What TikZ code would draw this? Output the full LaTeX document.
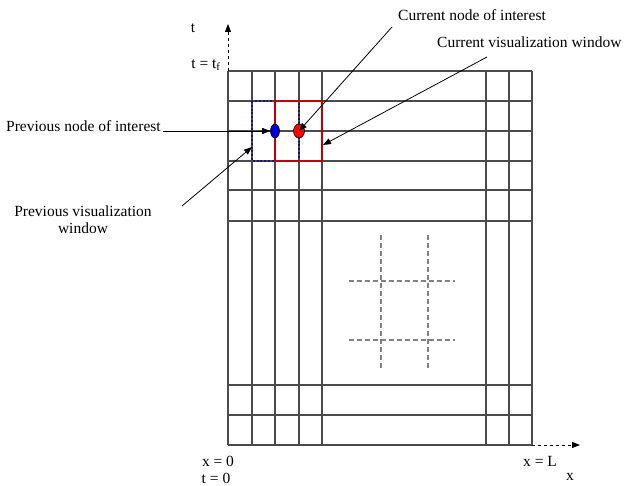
\documentclass[tikz,border=0pt]{standalone}
\usepackage{fontspec}
\setmainfont{Liberation Serif}
\usetikzlibrary{arrows.meta,shapes.geometric}
\definecolor{gridgray}{RGB}{75,75,75}
\definecolor{winred}{RGB}{192,0,0}
\definecolor{winblue}{RGB}{20,20,120}
\begin{document}
\begin{tikzpicture}[x=1pt,y=-1pt,
  gridline/.style={draw=gridgray, line width=1.2pt},
  lbl/.style={font=\fontsize{15.5}{17}\selectfont, inner sep=0pt},
  ptr/.style={draw=black, line width=0.8pt, -{Triangle[length=8pt,width=6pt]}},
  axisline/.style={draw=black, dashed, line width=0.8pt, -{Triangle[length=8pt,width=6pt]}},
  crossline/.style={draw=gray, line width=1.1pt, dash pattern=on 5pt off 3pt},
  dot/.style={ellipse, draw=black, line width=0.6pt, minimum width=9pt, minimum height=14pt, inner sep=0pt}
]
\useasboundingbox (0,0) rectangle (624,486);
% grid
\foreach \x in {228,252,275,299,322,486,509,532}
  \draw[gridline] (\x,71) -- (\x,445);
\foreach \y in {71,101,131,161,190,221,385,415,445}
  \draw[gridline] (228,\y) -- (532,\y);
% dashed cross pattern
\foreach \x in {381,428}
  \draw[crossline] (\x,235) -- (\x,368);
\foreach \y in {281,340}
  \draw[crossline] (349,\y) -- (455,\y);
% axes
\coordinate (origin) at (228,445);
\coordinate (ttop) at (228,71);
\coordinate (xend) at (532,445);
\coordinate (tarrow) at (228,24);
\coordinate (xarrow) at (580,445);
\draw[axisline] (ttop) -- (tarrow);
\draw[axisline] (xend) -- (xarrow);
% windows
\draw[draw=winblue, line width=2.2pt, dash pattern=on 2pt off 1.8pt] (252,101) rectangle (299,161);
\draw[draw=winred, line width=2.2pt] (275,101) rectangle (322,161);
% nodes of interest
\node[dot, fill=blue!85!black] (prevnode) at (275,131) {};
\node[dot, fill=red, minimum width=11pt] (curnode) at (299,131) {};
% labels
\node[lbl] (tlab) at (193,28) {t};
\node[lbl] (tflab) at (206,65) {t = t\textsubscript{f}};
\node[lbl, anchor=west] (cnlab) at (398,15) {Current node of interest};
\node[lbl, anchor=west] (cwlab) at (437,42) {Current visualization window};
\node[lbl, anchor=west] (pnlab) at (6,126) {Previous node of interest};
\node[lbl, align=center] (pwlab) at (83,220) {Previous visualization\\window};
\node[lbl] (x0lab) at (218,461) {x = 0};
\node[lbl] (t0lab) at (216,478) {t = 0};
\node[lbl] (xLlab) at (540,461) {x = L};
\node[lbl] (xlab) at (570,477) {x};
% pointer arrows
\coordinate (cnstart) at (392,27);
\coordinate (cwstart) at (487,57);
\coordinate (pwstart) at (182,206);
\coordinate (pwtip) at (252,147);
\coordinate (cwtip) at (323,145);
\draw[ptr] (cnstart) -- (curnode.center);
\draw[ptr] (cwstart) -- (cwtip);
\draw[ptr] ([xshift=2pt]pnlab.east |- prevnode.center) -- (prevnode.west);
\draw[ptr] (pwstart) -- (pwtip);
\end{tikzpicture}
\end{document}
